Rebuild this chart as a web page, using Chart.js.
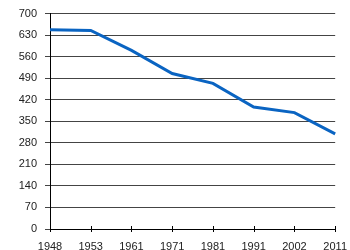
<!DOCTYPE html>
<html>
<head>
<meta charset="utf-8">
<script src="https://cdn.jsdelivr.net/npm/chart.js@4"></script>
<style>
html,body{margin:0;padding:0;background:#fff;}
#wrap{width:350px;height:250px;position:relative;}
</style>
</head>
<body>
<div id="wrap"><canvas id="c"></canvas></div>
<script>
const years = ["1948","1953","1961","1971","1981","1991","2002","2011"];
const values = [647, 645, 580, 505, 473, 396, 378, 309];
const yTicks = [0,70,140,210,280,350,420,490,560,630,700];

const crossTicks = {
  id: 'crossTicks',
  afterDatasetsDraw(chart) {
    const x = chart.scales.x, ctx = chart.ctx;
    const yb = chart.chartArea.bottom;
    ctx.save();
    ctx.strokeStyle = '#000';
    ctx.lineWidth = 1;
    years.forEach((_, i) => {
      const px = Math.round(x.getPixelForValue(i)) + 0.5;
      ctx.beginPath();
      ctx.moveTo(px, yb - 3);
      ctx.lineTo(px, yb + 3);
      ctx.stroke();
    });
    ctx.restore();
  }
};

new Chart(document.getElementById('c'), {
  type: 'line',
  data: {
    labels: years,
    datasets: [{
      data: values,
      borderColor: '#0a64c2',
      borderWidth: 3,
      pointRadius: 0,
      tension: 0,
      fill: false
    }]
  },
  options: {
    responsive: true,
    maintainAspectRatio: false,
    animation: false,
    layout: { padding: { top: 2, right: 14, left: 0, bottom: 0 } },
    plugins: { legend: { display: false }, tooltip: { enabled: false } },
    scales: {
      x: {
        offset: false,
        grid: { display: false, drawOnChartArea: false },
        border: { display: true, color: '#000', width: 1 },
        afterFit(axis) { axis.height = 21; },
        ticks: {
          color: '#222',
          font: { family: 'Liberation Sans, Arial, sans-serif', size: 11 },
          maxRotation: 0,
          autoSkip: false,
          padding: 3
        }
      },
      y: {
        min: 0,
        max: 700,
        afterBuildTicks(axis) { axis.ticks = yTicks.map(v => ({ value: v })); },
        afterFit(axis) { axis.width = 50; },
        grid: { color: '#444', lineWidth: 1, tickLength: 5, drawTicks: true },
        border: { display: true, color: '#000', width: 1 },
        ticks: {
          color: '#222',
          font: { family: 'Liberation Sans, Arial, sans-serif', size: 11, lineHeight: 1 },
          padding: 8
        }
      }
    }
  },
  plugins: [crossTicks]
});
</script>
</body>
</html>
